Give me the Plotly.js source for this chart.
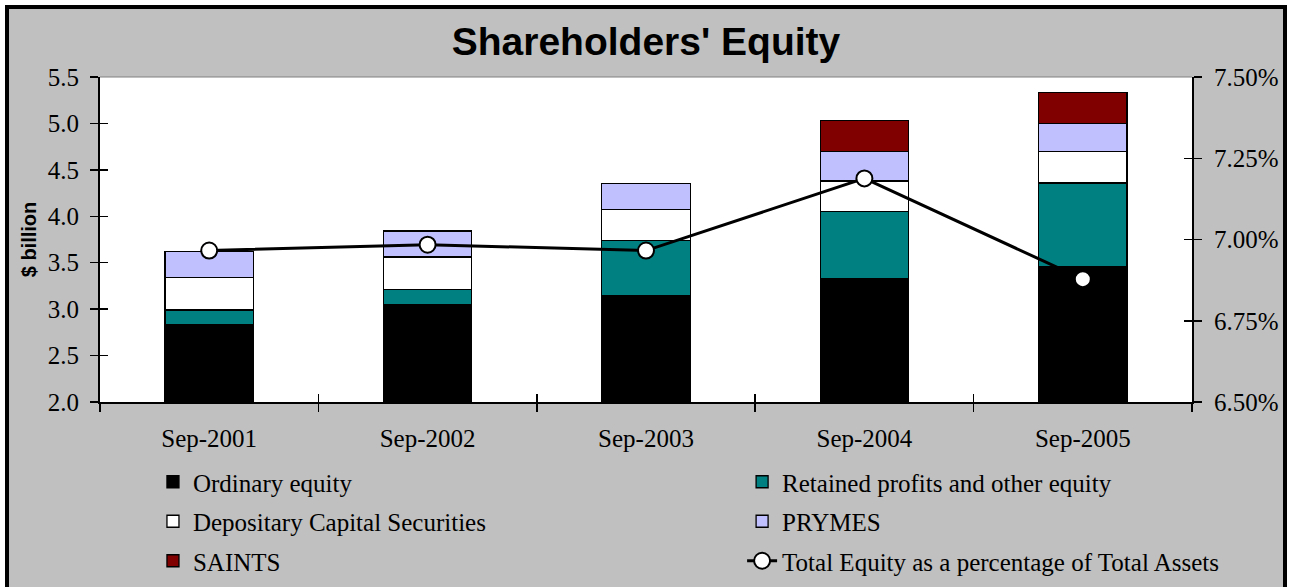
<!DOCTYPE html>
<html><head><meta charset="utf-8">
<script src="https://cdn.plot.ly/plotly-3.0.1.min.js"></script>
<style>
html,body{margin:0;padding:0;background:#fff;overflow:hidden;width:1292px;height:587px}
#chart{position:absolute;left:5px;top:5px;width:1274px;height:600px;border:4px solid #000;}
</style></head><body><div id="chart"></div>
<script>
const categories = ['Sep-2001','Sep-2002','Sep-2003','Sep-2004','Sep-2005'];
const ordinaryEquity = [2.83, 3.05, 3.15, 3.33, 3.46];
const retainedProfits = [0.16, 0.16, 0.59, 0.72, 0.90];
const depositaryCapital = [0.35, 0.35, 0.33, 0.33, 0.34];
const prymes = [0.28, 0.28, 0.28, 0.32, 0.30];
const saints = [null, null, null, 0.33, 0.33];
const equityPctAssets = [6.966, 6.984, 6.966, 7.188, 6.878];
const leftTicks = [2.0, 2.5, 3.0, 3.5, 4.0, 4.5, 5.0, 5.5];
const leftTickText = ['2.0','2.5','3.0','3.5','4.0','4.5','5.0','5.5'];
const rightTicks = [6.50, 6.75, 7.00, 7.25, 7.50];
const rightTickText = ['6.50%','6.75%','7.00%','7.25%','7.50%'];

const serif = 'Liberation Serif, Times New Roman, serif';
const sans = 'Liberation Sans, Arial, sans-serif';
const outline = {color:'#000', width:1.3};

function barTrace(name, y, color, legend){
  return {type:'bar', name:name, x:categories, y:y, marker:{color:color, line:outline},
          legend:legend, legendgroup:name, hoverinfo:'skip'};
}
const traces = [
  barTrace('Ordinary equity', ordinaryEquity, '#000000', 'legend'),
  barTrace('Retained profits and other equity', retainedProfits, '#008080', 'legend2'),
  barTrace('Depositary Capital Securities', depositaryCapital, '#ffffff', 'legend'),
  barTrace('PRYMES', prymes, '#c0c0ff', 'legend2'),
  barTrace('SAINTS', saints, '#800000', 'legend'),
  {type:'scatter', mode:'lines+markers', name:'Total Equity as a percentage of Total Assets',
   legend:'legend2', legendgroup:'pct',
   x:categories, y:equityPctAssets, yaxis:'y2',
   line:{color:'#000', width:3}, marker:{symbol:'circle', size:16, color:'#fff', line:{color:'#000', width:2}}, hoverinfo:'skip'},
  // invisible helpers so that the cross-tick overlay axes are drawn
  {type:'scatter', mode:'markers', x:categories, y:ordinaryEquity, xaxis:'x2', yaxis:'y3', marker:{opacity:0}, showlegend:false, hoverinfo:'skip'},
  {type:'scatter', mode:'markers', x:categories, y:equityPctAssets, xaxis:'x2', yaxis:'y4', marker:{opacity:0}, showlegend:false, hoverinfo:'skip'}
];

const tickFont = {family:serif, size:25, color:'#000'};
const legendBase = {orientation:'v', xref:'paper', yref:'paper', y:-0.1754, yanchor:'top', xanchor:'left',
  font:{family:serif, size:25, color:'#000'}, bgcolor:'rgba(0,0,0,0)', borderwidth:0,
  traceorder:'grouped', tracegroupgap:4};
const layout = {
  width:1274, height:600,
  margin:{l:91, r:91, t:68, b:207},
  paper_bgcolor:'#c0c0c0', plot_bgcolor:'#ffffff',
  barmode:'stack', bargap:0.595,
  showlegend:true,
  title:{text:"<b>Shareholders' Equity</b>", font:{family:sans, size:39, color:'#000'}, x:0.5, xref:'paper', xanchor:'center', y:1-32/600, yref:'container', yanchor:'middle'},
  xaxis:{type:'category', categoryarray:categories, range:[-0.5,4.5], tickson:'boundaries', ticks:'outside', ticklen:8, tickwidth:1.5, tickcolor:'#000',
         showline:true, linecolor:'#000', linewidth:2, showgrid:false, tickfont:tickFont, ticklabelstandoff:13, tickangle:0},
  xaxis2:{type:'category', categoryarray:categories, range:[-0.5,4.5], overlaying:'x', anchor:'y3', tickson:'boundaries', ticks:'inside', ticklen:8, tickwidth:1.5, tickcolor:'#000',
          showticklabels:false, showline:false, showgrid:false, zeroline:false},
  yaxis:{range:[2,5.5], tickvals:leftTicks, ticktext:leftTickText, ticks:'outside', ticklen:8, tickwidth:1.5, tickcolor:'#000',
         showline:true, linecolor:'#000', linewidth:2, showgrid:false, zeroline:false, tickfont:tickFont, ticklabelstandoff:6,
         title:{text:'<b>$ billion</b>', font:{family:sans, size:20, color:'#000'}, standoff:6}},
  yaxis2:{range:[6.5,7.5], tickvals:rightTicks, ticktext:rightTickText, overlaying:'y', side:'right', ticks:'outside', ticklen:8, tickwidth:1.5, tickcolor:'#000',
          showline:true, linecolor:'#000', linewidth:2, showgrid:false, zeroline:false, tickfont:tickFont, ticklabelstandoff:7},
  yaxis3:{range:[2,5.5], tickvals:leftTicks, overlaying:'y', side:'left', anchor:'x2', ticks:'inside', ticklen:8, tickwidth:1.5, tickcolor:'#000',
          showticklabels:false, showline:false, showgrid:false, zeroline:false},
  yaxis4:{range:[6.5,7.5], tickvals:rightTicks, overlaying:'y', side:'right', anchor:'x2', ticks:'inside', ticklen:8, tickwidth:1.5, tickcolor:'#000',
          showticklabels:false, showline:false, showgrid:false, zeroline:false},
  legend:Object.assign({}, legendBase, {x:0.0485}),
  legend2:Object.assign({}, legendBase, {x:0.588}),
  shapes:[{type:'line', xref:'paper', yref:'paper', x0:0, x1:1, y0:1, y1:1, line:{color:'#808080', width:1}, layer:'below'}]
};
Plotly.newPlot('chart', traces, layout, {displayModeBar:false, staticPlot:true});
</script></body></html>
